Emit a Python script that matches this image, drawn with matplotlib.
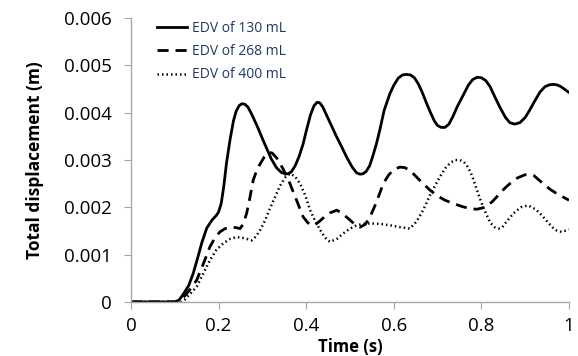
import numpy as np
import matplotlib.pyplot as plt

plt.rcParams['font.family'] = ['Open Sans', 'DejaVu Sans']

# time (s) and total displacement (m)
t_130 = [0.0, 0.1, 0.11, 0.12, 0.132, 0.142, 0.152, 0.162, 0.173, 0.185, 0.195,
         0.2, 0.206, 0.212, 0.218, 0.226, 0.234, 0.24, 0.247, 0.253, 0.26, 0.267,
         0.275, 0.288, 0.302, 0.32, 0.332, 0.343, 0.352, 0.359, 0.366, 0.375, 0.384,
         0.393, 0.402, 0.41, 0.418, 0.425, 0.431, 0.438, 0.446, 0.455, 0.468, 0.481,
         0.493, 0.505, 0.515, 0.523, 0.53, 0.537, 0.545, 0.552, 0.56, 0.568, 0.578,
         0.591, 0.6, 0.61, 0.62, 0.629, 0.638, 0.647, 0.656, 0.665, 0.674, 0.683,
         0.693, 0.7, 0.708, 0.717, 0.726, 0.735, 0.745, 0.759, 0.77, 0.78, 0.79,
         0.8, 0.81, 0.82, 0.83, 0.842, 0.855, 0.865, 0.876, 0.888, 0.9, 0.91, 0.92,
         0.934, 0.945, 0.955, 0.965, 0.972, 0.98, 0.988, 0.995, 1.0]
d_130 = [0.0, 0.0, 0.00004, 0.00017, 0.00035, 0.0006, 0.00092, 0.00126, 0.00156,
         0.00173, 0.00183, 0.0019, 0.00208, 0.00245, 0.00293, 0.00342, 0.00383,
         0.00403, 0.00415, 0.00419, 0.00418, 0.00412, 0.00398, 0.00372, 0.00341,
         0.00303, 0.00284, 0.00274, 0.00271, 0.00271, 0.00275, 0.00288, 0.00308,
         0.00334, 0.00368, 0.00396, 0.00415, 0.00422, 0.00421, 0.00412, 0.00396,
         0.00378, 0.00352, 0.00328, 0.00305, 0.00285, 0.00273, 0.0027, 0.00271,
         0.00276, 0.00288, 0.00308, 0.00333, 0.00363, 0.00405, 0.0044, 0.00458,
         0.00473, 0.0048, 0.00481, 0.0048, 0.00474, 0.00461, 0.00443, 0.00422,
         0.00402, 0.00382, 0.00373, 0.00369, 0.00369, 0.00376, 0.00392, 0.00413,
         0.00438, 0.00458, 0.0047, 0.00475, 0.00474, 0.00468, 0.00455, 0.00435,
         0.00412, 0.0039, 0.00379, 0.00376, 0.00379, 0.0039, 0.00405, 0.00422,
         0.00444, 0.00455, 0.00459, 0.0046, 0.00459, 0.00456, 0.00451, 0.00446,
         0.00443]

t_268 = [0.0, 0.105, 0.115, 0.125, 0.138, 0.15, 0.165, 0.18, 0.192, 0.203, 0.215,
         0.23, 0.24, 0.249, 0.256, 0.264, 0.271, 0.279, 0.287, 0.295, 0.304, 0.313,
         0.322, 0.333, 0.348, 0.363, 0.378, 0.393, 0.403, 0.412, 0.42, 0.43, 0.442,
         0.454, 0.47, 0.485, 0.5, 0.512, 0.523, 0.535, 0.546, 0.56, 0.576, 0.588,
         0.6, 0.614, 0.625, 0.637, 0.652, 0.667, 0.682, 0.698, 0.717, 0.736, 0.755,
         0.774, 0.79, 0.808, 0.825, 0.842, 0.853, 0.865, 0.882, 0.9, 0.92, 0.941,
         0.957, 0.972, 0.986, 1.0]
d_268 = [0.0, 0.0, 0.00005, 0.00015, 0.0003, 0.00046, 0.0008, 0.00116, 0.00136,
         0.00148, 0.00155, 0.00158, 0.00157, 0.00155, 0.00164, 0.00187, 0.00218,
         0.00257, 0.00278, 0.00292, 0.00306, 0.00316, 0.00315, 0.00304, 0.0028,
         0.0025, 0.00215, 0.0018, 0.00168, 0.00162, 0.00163, 0.0017, 0.0018,
         0.00188, 0.00194, 0.00185, 0.00173, 0.00163, 0.00158, 0.00164, 0.0018,
         0.0021, 0.0025, 0.00268, 0.0028, 0.00285, 0.00284, 0.00278, 0.00264,
         0.0025, 0.00237, 0.00225, 0.00215, 0.00208, 0.00202, 0.00197, 0.00196,
         0.002, 0.00212, 0.00229, 0.0024, 0.0025, 0.00262, 0.00269, 0.00267,
         0.0025, 0.00238, 0.00229, 0.00222, 0.00215]

t_400 = [0.0, 0.115, 0.123, 0.13, 0.14, 0.15, 0.165, 0.18, 0.195, 0.211, 0.226,
         0.241, 0.258, 0.275, 0.285, 0.295, 0.306, 0.317, 0.328, 0.34, 0.352, 0.363,
         0.374, 0.386, 0.398, 0.409, 0.42, 0.432, 0.443, 0.454, 0.47, 0.485, 0.5,
         0.515, 0.53, 0.546, 0.568, 0.591, 0.615, 0.637, 0.652, 0.667, 0.685, 0.705,
         0.718, 0.73, 0.741, 0.751, 0.76, 0.767, 0.775, 0.782, 0.793, 0.804, 0.82,
         0.83, 0.839, 0.848, 0.856, 0.865, 0.873, 0.89, 0.907, 0.925, 0.941, 0.952,
         0.962, 0.972, 0.983, 1.0]
d_400 = [0.0, 0.0, 0.00005, 0.00012, 0.00022, 0.00032, 0.0006, 0.00088, 0.0011,
         0.00124, 0.00133, 0.00137, 0.00135, 0.0013, 0.00138, 0.00152, 0.00172,
         0.00197, 0.0022, 0.00245, 0.00263, 0.00271, 0.00266, 0.0025, 0.00225,
         0.00194, 0.00172, 0.00152, 0.00136, 0.00127, 0.00133, 0.00145, 0.00155,
         0.00162, 0.00165, 0.00166, 0.00165, 0.00162, 0.00158, 0.00155, 0.0017,
         0.00194, 0.0023, 0.00264, 0.00283, 0.00295, 0.003, 0.003, 0.00296,
         0.00288, 0.00275, 0.00258, 0.00228, 0.002, 0.00168, 0.00158, 0.00155,
         0.00158, 0.00168, 0.00178, 0.00187, 0.002, 0.00204, 0.00195, 0.0018,
         0.00168, 0.00158, 0.00151, 0.00148, 0.00153]

fig = plt.figure(figsize=(5.78, 3.56), dpi=100)
ax = fig.add_axes([0.2266, 0.152, 0.7578, 0.797])

ax.plot(t_130, d_130, color='k', lw=2.0, ls='-', label='EDV of 130 mL')
ax.plot(t_268, d_268, color='k', lw=2.0, ls=(0, (4, 2.5)), label='EDV of 268 mL')
ax.plot(t_400, d_400, color='k', lw=1.8, ls=(0, (0.6, 1.2)), label='EDV of 400 mL')

ax.set_xlim(0, 1)
ax.set_ylim(0, 0.006)
ax.set_xticks(np.arange(0, 1.01, 0.2))
ax.set_xticklabels(['0', '0.2', '0.4', '0.6', '0.8', '1'])
ax.set_yticks(np.arange(0, 0.0061, 0.001))
ax.set_yticklabels(['0', '0.001', '0.002', '0.003', '0.004', '0.005', '0.006'])

for s in ['top', 'right']:
    ax.spines[s].set_visible(False)
for s in ['left', 'bottom']:
    ax.spines[s].set_color('#a6a6a6')
    ax.spines[s].set_linewidth(1.0)
ax.tick_params(direction='out', length=5, color='#a6a6a6', labelsize=13.5,
               labelcolor='k')
ax.tick_params(axis='y', pad=9)
ax.tick_params(axis='x', pad=6)

ax.set_xlabel('Time (s)', fontsize=12, fontweight='bold', labelpad=2)
ax.set_ylabel('Total displacement (m)', fontsize=12.5, fontweight='bold', labelpad=14)

leg = ax.legend(loc='upper left', bbox_to_anchor=(0.03, 1.035), frameon=False,
                fontsize=10, handlelength=2.2, handletextpad=0.35, labelspacing=0.6)
for txt in leg.get_texts():
    txt.set_color('#1f3864')

fig.savefig('out.png', dpi=100)
